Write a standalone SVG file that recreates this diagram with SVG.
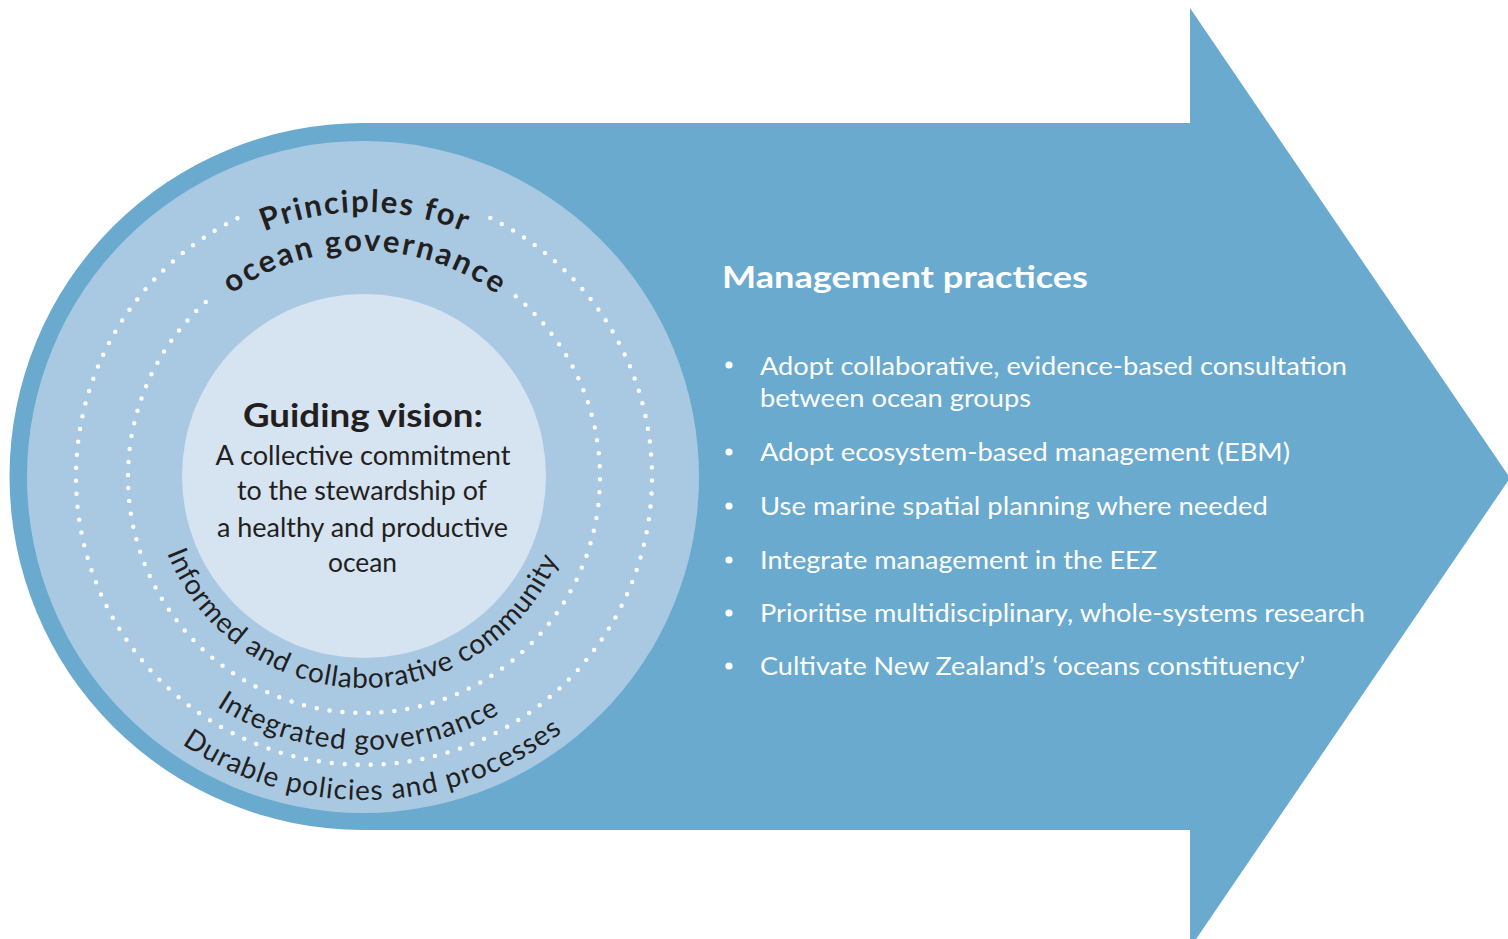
<svg xmlns="http://www.w3.org/2000/svg" xmlns:xlink="http://www.w3.org/1999/xlink" width="1508" height="939" viewBox="0 0 1508 939">
<style>
.t{font-family:Lato,"Open Sans","Liberation Sans",sans-serif;fill:#231f20}
.b{font-weight:bold}
.w{font-family:Lato,"Open Sans","Liberation Sans",sans-serif;fill:#ffffff}
.dots{fill:none;stroke:#ffffff;stroke-width:4.5;stroke-linecap:round;stroke-dasharray:0 13}
</style>
<defs>
<path id="pTop1" d="M 99 477 A 265 265 0 0 1 629 477"/>
<path id="pTop2" d="M 138 477 A 226 226 0 0 1 590 477"/>
<path id="pBot1" d="M 153 477 A 211 211 0 0 0 575 477"/>
<path id="pBot2" d="M 91 477 A 273 273 0 0 0 637 477"/>
<path id="pBot3" d="M 41 477 A 323 323 0 0 0 687 477"/>
</defs>
<rect width="1508" height="939" fill="#ffffff"/>
<g id="arrow">
<path d="M 1190 123 L 1190 8 L 1510 478 L 1190 948 L 1190 830 L 363 830 A 353.5 353.5 0 0 1 363 123 Z" fill="#6aaacf"/>
</g>
<g id="principles">
<circle cx="363" cy="477" r="336" fill="#a9c9e3"/>
<path class="dots" d="M 490.3 218.1 A 288 288 0 1 1 237.7 218.1"/>
<path class="dots" d="M 515.7 296.2 A 236 236 0 1 1 212.3 296.2"/>
<text class="t b" font-size="31" text-anchor="middle"><textPath xlink:href="#pTop1" href="#pTop1" startOffset="416.3" textLength="205" lengthAdjust="spacing">Principles for</textPath></text>
<text class="t b" font-size="31" text-anchor="middle"><textPath xlink:href="#pTop2" href="#pTop2" startOffset="355" textLength="284" lengthAdjust="spacing">ocean governance</textPath></text>
<text class="t" font-size="28" text-anchor="middle"><textPath xlink:href="#pBot1" href="#pBot1" startOffset="327.7" textLength="500" lengthAdjust="spacing">Informed and collaborative community</textPath></text>
<text class="t" font-size="28" text-anchor="middle"><textPath xlink:href="#pBot2" href="#pBot2" startOffset="421.7" textLength="298" lengthAdjust="spacing">Integrated governance</textPath></text>
<text class="t" font-size="28" text-anchor="middle"><textPath xlink:href="#pBot3" href="#pBot3" startOffset="517.2" textLength="407" lengthAdjust="spacing">Durable policies and processes</textPath></text>
</g>
<g id="vision">
<circle cx="364" cy="476" r="182" fill="#d6e3f0"/>
<text class="t b" x="363" y="427" font-size="33" text-anchor="middle" textLength="240" lengthAdjust="spacingAndGlyphs">Guiding vision:</text>
<text class="t" x="363" y="465" font-size="26" text-anchor="middle" textLength="295" lengthAdjust="spacingAndGlyphs">A collective commitment</text>
<text class="t" x="362" y="500" font-size="26" text-anchor="middle" textLength="250" lengthAdjust="spacingAndGlyphs">to the stewardship of</text>
<text class="t" x="362.5" y="537" font-size="26" text-anchor="middle" textLength="291" lengthAdjust="spacingAndGlyphs">a healthy and productive</text>
<text class="t" x="362.5" y="572" font-size="26" text-anchor="middle" textLength="69" lengthAdjust="spacingAndGlyphs">ocean</text>
</g>
<g id="management">
<text class="w b" x="722" y="288" font-size="31" textLength="366" lengthAdjust="spacingAndGlyphs">Management practices</text>
<g fill="#ffffff">
<circle cx="729" cy="365" r="3.6"/>
<circle cx="729" cy="452" r="3.6"/>
<circle cx="729" cy="506" r="3.6"/>
<circle cx="729" cy="560" r="3.6"/>
<circle cx="729" cy="613" r="3.6"/>
<circle cx="729" cy="666" r="3.6"/>
</g>
<text class="w" x="760" y="375" font-size="25" textLength="587" lengthAdjust="spacingAndGlyphs">Adopt collaborative, evidence-based consultation</text>
<text class="w" x="760" y="407" font-size="25" textLength="271" lengthAdjust="spacingAndGlyphs">between ocean groups</text>
<text class="w" x="760" y="461" font-size="25" textLength="530" lengthAdjust="spacingAndGlyphs">Adopt ecosystem-based management (EBM)</text>
<text class="w" x="760" y="515" font-size="25" textLength="508" lengthAdjust="spacingAndGlyphs">Use marine spatial planning where needed</text>
<text class="w" x="760" y="569" font-size="25" textLength="397" lengthAdjust="spacingAndGlyphs">Integrate management in the EEZ</text>
<text class="w" x="760" y="622" font-size="25" textLength="605" lengthAdjust="spacingAndGlyphs">Prioritise multidisciplinary, whole-systems research</text>
<text class="w" x="760" y="675" font-size="25" textLength="545" lengthAdjust="spacingAndGlyphs">Cultivate New Zealand’s ‘oceans constituency’</text>
</g>
</svg>
